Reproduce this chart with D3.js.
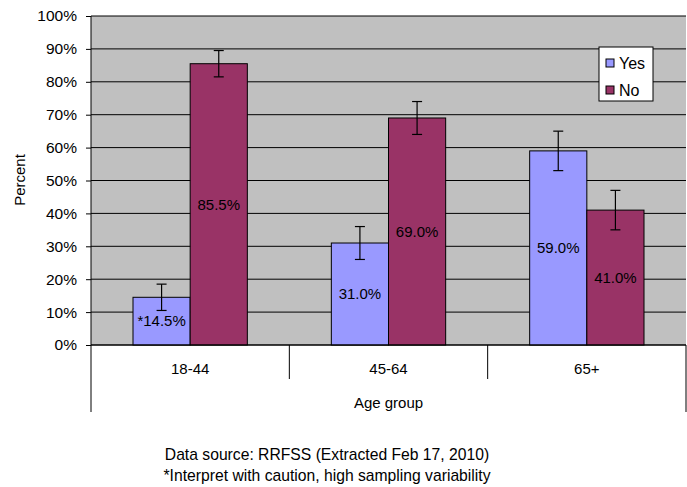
<!DOCTYPE html>
<html>
<head>
<meta charset="utf-8">
<script src="https://cdn.jsdelivr.net/npm/d3@7"></script>
<style>
body { margin: 0; background: #fff; }
text { font-family: "Liberation Sans", Arial, sans-serif; }
</style>
</head>
<body>
<script>
var ageGroups = ["18-44", "45-64", "65+"];
var seriesNames = ["Yes", "No"];
var yesValues = [14.5, 31.0, 59.0];
var noValues = [85.5, 69.0, 41.0];
var yesErrors = [4, 5, 6];
var noErrors = [4, 5, 6];
var valueLabels = [["*14.5%", "31.0%", "59.0%"], ["85.5%", "69.0%", "41.0%"]];
var yTicks = [0, 10, 20, 30, 40, 50, 60, 70, 80, 90, 100];
var footerLines = ["Data source: RRFSS (Extracted Feb 17, 2010)", "*Interpret with caution, high sampling variability"];

var width = 687,
    height = 487;
var plotL = 91, plotR = 686, plotT = 16, plotB = 345;
var colors = ["#9999ff", "#993366"];

var svg = d3.select('body')
    .append('svg')
    .attr('width', width)
    .attr('height', height);

var x = d3.scaleBand()
    .domain(ageGroups)
    .range([plotL, plotR]);

var xInner = d3.scaleBand()
    .domain(seriesNames)
    .range([42, x.bandwidth() - 42]);

var y = d3.scaleLinear()
    .domain([0, 100])
    .range([plotB, plotT]);

// plot background
svg.append('rect')
    .attr('x', plotL).attr('y', plotT)
    .attr('width', plotR - plotL).attr('height', plotB - plotT)
    .attr('fill', '#c0c0c0');

// gridlines
svg.append('g')
    .selectAll('line')
    .data(yTicks)
    .enter()
    .append('line')
    .attr('x1', plotL).attr('x2', plotR)
    .attr('y1', d => y(d)).attr('y2', d => y(d))
    .attr('stroke', '#000')
    .attr('stroke-width', 1);

// y axis
var yAxis = d3.axisLeft(y)
    .tickValues(yTicks)
    .tickSize(5)
    .tickPadding(9)
    .tickFormat(d => d + '%');

var gy = svg.append('g')
    .attr('transform', 'translate(' + plotL + ',0)')
    .call(yAxis);
gy.select('.domain').remove();
gy.selectAll('.tick line').attr('stroke', '#000');
gy.selectAll('text').attr('font-size', 15.5).attr('fill', '#000')
    .attr('font-family', '"Liberation Sans", Arial, sans-serif');

// left axis line running down past the category labels
svg.append('line')
    .attr('x1', plotL).attr('x2', plotL)
    .attr('y1', plotT).attr('y2', 412)
    .attr('stroke', '#000');

// category dividers
svg.append('g')
    .selectAll('line')
    .data(ageGroups.slice(1))
    .enter()
    .append('line')
    .attr('x1', d => x(d)).attr('x2', d => x(d))
    .attr('y1', plotB).attr('y2', 379)
    .attr('stroke', '#000');

svg.append('line')
    .attr('x1', plotR).attr('x2', plotR)
    .attr('y1', plotB).attr('y2', 412)
    .attr('stroke', '#000');

// bars
var rows = [];
ageGroups.forEach(function(g, i) {
    rows.push({group: g, s: 0, name: "Yes", v: yesValues[i], e: yesErrors[i], label: valueLabels[0][i]});
    rows.push({group: g, s: 1, name: "No", v: noValues[i], e: noErrors[i], label: valueLabels[1][i]});
});

var bars = svg.append('g');
bars.selectAll('rect')
    .data(rows)
    .enter()
    .append('rect')
    .attr('x', d => x(d.group) + xInner(d.name))
    .attr('y', d => y(d.v))
    .attr('width', xInner.bandwidth())
    .attr('height', d => y(0) - y(d.v))
    .attr('fill', d => colors[d.s])
    .attr('stroke', '#000')
    .attr('stroke-width', 1);

// x axis line
svg.append('line')
    .attr('x1', plotL).attr('x2', plotR)
    .attr('y1', plotB).attr('y2', plotB)
    .attr('stroke', '#000');

// value labels
bars.selectAll('text')
    .data(rows)
    .enter()
    .append('text')
    .attr('x', d => x(d.group) + xInner(d.name) + xInner.bandwidth() / 2)
    .attr('y', d => (y(d.v) + y(0)) / 2)
    .attr('dy', '0.35em')
    .attr('text-anchor', 'middle')
    .attr('font-size', 15)
    .attr('fill', '#000')
    .text(d => d.label);

// error bars
var err = svg.append('g').attr('stroke', '#000').attr('stroke-width', 1.2);
rows.forEach(function(d) {
    var cx = x(d.group) + xInner(d.name) + xInner.bandwidth() / 2;
    err.append('line').attr('x1', cx).attr('x2', cx)
        .attr('y1', y(d.v + d.e)).attr('y2', y(d.v - d.e));
    err.append('line').attr('x1', cx - 5).attr('x2', cx + 5)
        .attr('y1', y(d.v + d.e)).attr('y2', y(d.v + d.e));
    err.append('line').attr('x1', cx - 5).attr('x2', cx + 5)
        .attr('y1', y(d.v - d.e)).attr('y2', y(d.v - d.e));
});

// category labels
svg.append('g')
    .selectAll('text')
    .data(ageGroups)
    .enter()
    .append('text')
    .attr('x', d => x(d) + x.bandwidth() / 2)
    .attr('y', 369)
    .attr('dy', '0.35em')
    .attr('text-anchor', 'middle')
    .attr('font-size', 15)
    .text(d => d);

svg.append('text')
    .attr('x', (plotL + plotR) / 2)
    .attr('y', 403)
    .attr('dy', '0.35em')
    .attr('text-anchor', 'middle')
    .attr('font-size', 15)
    .text('Age group');

svg.append('text')
    .attr('transform', 'translate(20,180) rotate(-90)')
    .attr('dy', '0.35em')
    .attr('text-anchor', 'middle')
    .attr('font-size', 15)
    .text('Percent');

// legend
var lg = svg.append('g').attr('transform', 'translate(599,47)');
lg.append('rect')
    .attr('width', 54).attr('height', 54)
    .attr('fill', '#fff').attr('stroke', '#000');
lg.selectAll('.sw')
    .data(seriesNames)
    .enter()
    .append('rect')
    .attr('x', 7).attr('y', (d, i) => 12 + i * 27)
    .attr('width', 8).attr('height', 8)
    .attr('fill', (d, i) => colors[i])
    .attr('stroke', '#000');
lg.selectAll('text')
    .data(seriesNames)
    .enter()
    .append('text')
    .attr('x', 20).attr('y', (d, i) => 16 + i * 27)
    .attr('dy', '0.35em')
    .attr('font-size', 16)
    .text(d => d);

// footer
svg.append('g')
    .selectAll('text')
    .data(footerLines)
    .enter()
    .append('text')
    .attr('x', 327)
    .attr('y', (d, i) => 455 + i * 21)
    .attr('dy', '0.35em')
    .attr('text-anchor', 'middle')
    .attr('font-size', 15.7)
    .text(d => d);
</script>
</body>
</html>
